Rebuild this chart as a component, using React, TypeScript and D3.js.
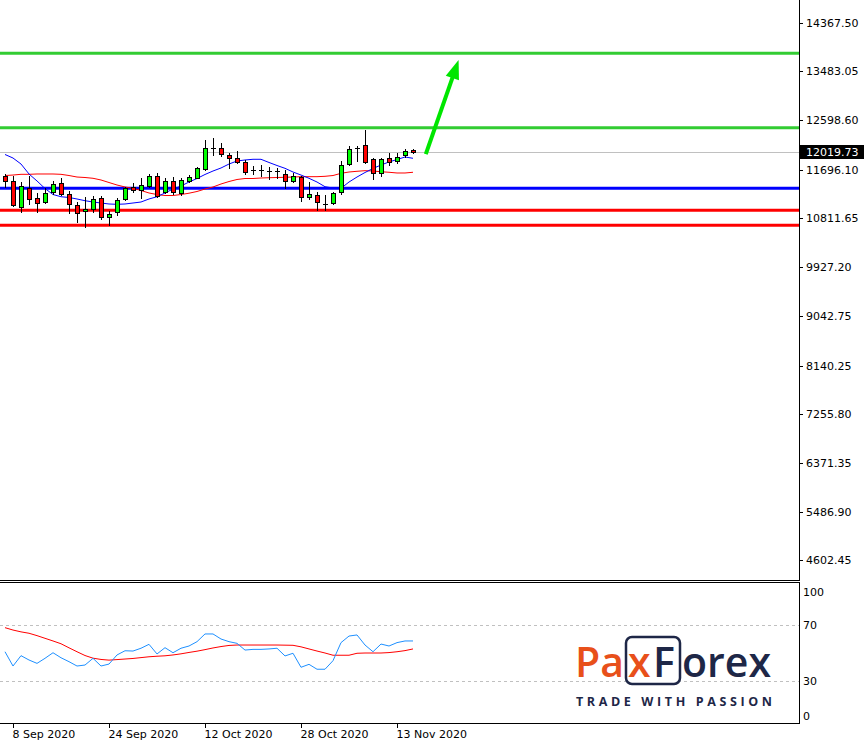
import React from 'react';
import * as d3 from 'd3';

const dates = [
  '2020-09-07','2020-09-08','2020-09-09','2020-09-10','2020-09-11','2020-09-14','2020-09-15','2020-09-16','2020-09-17','2020-09-18',
  '2020-09-21','2020-09-22','2020-09-23','2020-09-24','2020-09-25','2020-09-28','2020-09-29','2020-09-30','2020-10-01','2020-10-02',
  '2020-10-05','2020-10-06','2020-10-07','2020-10-08','2020-10-09','2020-10-12','2020-10-13','2020-10-14','2020-10-15','2020-10-16',
  '2020-10-19','2020-10-20','2020-10-21','2020-10-22','2020-10-23','2020-10-26','2020-10-27','2020-10-28','2020-10-29','2020-10-30',
  '2020-11-02','2020-11-03','2020-11-04','2020-11-05','2020-11-06','2020-11-09','2020-11-10','2020-11-11','2020-11-12','2020-11-13',
  '2020-11-16','2020-11-17'
];

const open = [11583,11492,11020,11365,11184,11111,11293,11456,11256,11057, 10948,10984,11184,10839,10930,11166,11384,11329,11402,11583, 11293,11492,11275,11492,11547,11710,12092,12092,11965,11910, 11838,11692,11692,11674,11674,11620,11492,11565,11202,11238, 11075,11093,11293,11801,12092,12146,11892,11638,11910,11856, 11965,12055];
const high = [11620,11583,11474,11583,11275,11365,11492,11547,11311,11111, 11202,11220,11220,10948,11184,11384,11456,11547,11620,11638, 11547,11565,11547,11601,11740,12237,12273,12183,12001,12037, 11874,11765,11783,11747,11729,11692,11638,11583,11474,11293, 11238,11293,11856,12128,12128,12419,11910,11910,12001,12001, 12074,12074];
const low = [11384,11038,10930,11075,10930,11093,11256,11238,10911,10748, 10657,10930,10802,10693,10875,11147,11293,11184,11384,11202, 11275,11256,11238,11474,11540,11692,11965,11947,11729,11819, 11620,11620,11592,11529,11547,11365,11474,11129,11166,10966, 10966,11075,11256,11783,11856,11819,11529,11583,11783,11819, 11928,12001];
const close = [11492,11057,11402,11166,11093,11275,11438,11256,11075,10911, 10984,11166,10839,10893,11147,11365,11329,11420,11583,11220, 11492,11293,11511,11565,11729,12092,12092,11983,11910,11838, 11656,11690,11695,11672,11680,11492,11583,11202,11256,11111, 11072,11275,11783,12074,12088,11838,11638,11892,11838,11928, 12037,12019.73];

const maFast = [11974,11910,11801,11620,11493,11356,11247,11207,11193,11166, 11135,11111,11093,11075,11069,11075,11093,11111,11166,11207, 11275,11347,11402,11474,11538,11611,11674,11729,11801,11856, 11874,11887,11887,11829,11774,11723,11656,11601,11542,11474, 11389,11365,11360,11474,11565,11647,11720,11783,11838,11883, 11928,11905];
const maSlow = [11592,11601,11614,11614,11620,11620,11620,11614,11592,11565, 11556,11542,11511,11465,11420,11384,11360,11320,11275,11247, 11229,11229,11247,11271,11302,11347,11384,11438,11483,11520, 11538,11538,11547,11552,11556,11560,11565,11571,11571,11571, 11578,11592,11632,11656,11669,11680,11674,11661,11651,11638, 11638,11651];

const oscMain = [50.9,40.7,48.1,45,42.6,46.2,50.2,46.6,43.8,40.7, 41.4,46.2,40.7,42.1,48.6,51.6,51.4,53.4,56.2,49.3, 53.8,50.2,53.4,55,58.1,63.6,63.6,60,58.1,56.9, 52.1,52.6,52.6,52.9,53.4,47.9,49.8,39.8,41.9,38.4, 38.4,44.5,57.4,62.1,62.9,55.7,50.9,56.4,55,57.4, 58.6,58.6];
const oscSignal = [68.1,66.4,65.1,64.1,62.4,60.5,58.6,56.6,53.7,50.9, 48.2,46.3,45.4,44.9,45.3,45.7,46.1,46.7,47.3,47.7, 48,48.6,49.4,50.4,51.3,52.4,53.6,54.6,55.4,55.7, 55.7,55.7,55.7,55.7,55.7,55.6,55.5,54.4,52.9,51.4, 50,48.4,48.4,48.4,49.8,50,50,50,50.3,50.9, 51.7,52.9];

const priceTicks = ['14367.50','13483.05','12598.60','11696.10','10811.65','9927.20','9042.75','8140.25','7255.80','6371.35','5486.90','4602.45'];
const oscTicks = [100, 70, 30, 0];
const oscLevels = [70, 30];
const labelDates = ['2020-09-08','2020-09-24','2020-10-12','2020-10-28','2020-11-13'];

const greenLevels = [13812, 12460];
const blueLevels = [11360];
const redLevels = [10960, 10688];
const lastPrice = 12019.73;
const arrowFrom = { i: 52.6, p: 11980 };
const arrowTo = { i: 56.7, p: 13690 };

const W = 866, H = 743;
const AXIS_X = 799;
const MAIN_BOTTOM = 580;
const SUB_TOP = 582;
const SUB_BOTTOM = 723;
const FONT = '"DejaVu Sans", sans-serif';

export default function App() {
  const x = d3.scaleLinear().domain([0, dates.length - 1]).range([5, 413]);
  const y = d3.scaleLinear().domain([4602.45, 14367.5]).range([560.4, 22.7]);
  const oy = d3.scaleLinear().domain([0, 100]).range([723, 583]);
  const parse = d3.timeParse('%Y-%m-%d');
  const fmt = d3.timeFormat('%-d %b %Y');

  const lineMain = d3.line<number>().x((_, i) => x(i)).y((v) => y(v));
  const lineOsc = d3.line<number>().x((_, i) => x(i)).y((v) => oy(v));

  const ax1 = x(arrowFrom.i), ay1 = y(arrowFrom.p);
  const ax2 = x(arrowTo.i), ay2 = y(arrowTo.p);
  const dx = ax2 - ax1, dy = ay2 - ay1;
  const len = Math.hypot(dx, dy);
  const ux = dx / len, uy = dy / len;
  const headL = 19, headW = 7;
  const bx = ax2 - ux * headL, by = ay2 - uy * headL;
  const head = [
    [ax2, ay2],
    [bx - uy * headW, by + ux * headW],
    [bx + uy * headW, by - ux * headW],
  ].map((p) => p.join(',')).join(' ');

  const navy = '#1E2747';
  const orange = '#E8501A';

  return (
    <svg width={W} height={H} style={{ position: 'absolute', left: 0, top: 0, background: '#fff' }}>
      <rect x={0} y={0} width={W} height={H} fill="#fff" />
      <defs>
        <clipPath id="mainClip"><rect x={0} y={0} width={AXIS_X} height={MAIN_BOTTOM} /></clipPath>
        <clipPath id="subClip"><rect x={0} y={SUB_TOP} width={AXIS_X} height={SUB_BOTTOM - SUB_TOP} /></clipPath>
      </defs>

      {/* main panel */}
      <g clipPath="url(#mainClip)">
        <line x1={0} x2={AXIS_X} y1={Math.round(y(lastPrice)) + 0.5} y2={Math.round(y(lastPrice)) + 0.5} stroke="#C0C0C0" strokeWidth={1} />
        {greenLevels.map((p, k) => (
          <line key={'g' + k} x1={0} x2={AXIS_X} y1={y(p)} y2={y(p)} stroke="#33CC33" strokeWidth={3} />
        ))}
        {blueLevels.map((p, k) => (
          <line key={'b' + k} x1={0} x2={AXIS_X} y1={y(p)} y2={y(p)} stroke="#0000FF" strokeWidth={3} />
        ))}
        {redLevels.map((p, k) => (
          <line key={'r' + k} x1={0} x2={AXIS_X} y1={y(p)} y2={y(p)} stroke="#FF0000" strokeWidth={3} />
        ))}
        <path d={lineMain(maSlow) || ''} fill="none" stroke="#FF0000" strokeWidth={1} />
        <path d={lineMain(maFast) || ''} fill="none" stroke="#0000FF" strokeWidth={1} />
        {dates.map((d, i) => {
          const cx = Math.round(x(i)) + 0.5;
          const yo = y(open[i]), yc = y(close[i]);
          const top = Math.round(Math.min(yo, yc));
          const bot = Math.round(Math.max(yo, yc));
          const bull = close[i] > open[i];
          return (
            <g key={d} shapeRendering="crispEdges">
              <line x1={cx} x2={cx} y1={Math.round(y(high[i]))} y2={Math.round(y(low[i])) + 1} stroke="#000" strokeWidth={1} />
              {bot - top < 1 ? (
                <line x1={cx - 2.5} x2={cx + 2.5} y1={top + 0.5} y2={top + 0.5} stroke="#000" strokeWidth={1} />
              ) : (
                <rect x={cx - 2} y={top + 0.5} width={4} height={bot - top} fill={bull ? '#00FF00' : '#FF0000'} stroke="#000" strokeWidth={1} />
              )}
            </g>
          );
        })}
        <line x1={ax1} y1={ay1} x2={bx + ux * 2} y2={by + uy * 2} stroke="#00E600" strokeWidth={4} />
        <polygon points={head} fill="#00E600" />
      </g>

      {/* sub panel */}
      <g clipPath="url(#subClip)">
        {oscLevels.map((v) => (
          <line key={v} x1={0} x2={AXIS_X} y1={Math.round(oy(v)) + 0.5} y2={Math.round(oy(v)) + 0.5} stroke="#C0C0C0" strokeDasharray="3,3" strokeWidth={1} />
        ))}
        <path d={lineOsc(oscSignal) || ''} fill="none" stroke="#FF0000" strokeWidth={1} />
        <path d={lineOsc(oscMain) || ''} fill="none" stroke="#1E90FF" strokeWidth={1} />
      </g>

      {/* logo */}
      <g>
        <rect x={626} y={637} width={54} height={47} rx={6} fill="#fff" stroke={navy} strokeWidth={2.5} />
        <text x={575} y={677} fontFamily='"Open Sans", sans-serif' fontWeight={600} fontSize={41} fill={orange}>Pa</text>
        <text x={628} y={677} fontFamily='"Open Sans", sans-serif' fontWeight={600} fontSize={41} fill={orange}>x</text>
        <text x={653} y={677} fontFamily='"Open Sans", sans-serif' fontWeight={600} fontSize={41} fill={navy}>F</text>
        <text x={682} y={677} fontFamily='"Open Sans", sans-serif' fontWeight={600} fontSize={41} fill={navy} textLength={89} lengthAdjust="spacingAndGlyphs">orex</text>
        <text x={576} y={706} fontFamily='"Open Sans", sans-serif' fontWeight={700} fontSize={12.5} fill={navy} textLength={196} lengthAdjust="spacing">TRADE WITH PASSION</text>
      </g>

      {/* frame */}
      <g shapeRendering="crispEdges" stroke="#000" strokeWidth={1}>
        <line x1={AXIS_X + 0.5} x2={AXIS_X + 0.5} y1={0} y2={MAIN_BOTTOM + 1} />
        <line x1={AXIS_X + 0.5} x2={AXIS_X + 0.5} y1={SUB_TOP} y2={SUB_BOTTOM + 1} />
        <line x1={0} x2={AXIS_X + 1} y1={MAIN_BOTTOM + 0.5} y2={MAIN_BOTTOM + 0.5} />
        <line x1={0} x2={AXIS_X + 1} y1={SUB_TOP + 0.5} y2={SUB_TOP + 0.5} />
        <line x1={0} x2={AXIS_X + 1} y1={SUB_BOTTOM + 0.5} y2={SUB_BOTTOM + 0.5} />
      </g>

      {/* price axis */}
      {priceTicks.map((t) => {
        const ty = Math.round(y(+t)) + 0.5;
        return (
          <g key={t}>
            <line x1={AXIS_X} x2={AXIS_X + 4} y1={ty} y2={ty} stroke="#000" shapeRendering="crispEdges" />
            <text x={806} y={ty} dy="0.36em" fontFamily={FONT} fontSize={11} fill="#000">{t}</text>
          </g>
        );
      })}
      <rect x={800} y={Math.round(y(lastPrice)) - 7} width={64} height={14} fill="#000" />
      <text x={806} y={Math.round(y(lastPrice))} dy="0.36em" fontFamily={FONT} fontSize={11} fill="#fff">{lastPrice.toFixed(2)}</text>

      {/* osc axis */}
      {oscTicks.map((v) => {
        const ty = Math.min(Math.max(oy(v), 592), 716);
        return (
          <text key={v} x={803} y={ty} dy="0.36em" fontFamily={FONT} fontSize={11} fill="#000">{v}</text>
        );
      })}

      {/* time axis */}
      {labelDates.map((d) => {
        const i = dates.indexOf(d);
        const cx = Math.round(x(i)) + 0.5;
        return (
          <g key={d}>
            <line x1={cx} x2={cx} y1={SUB_BOTTOM} y2={SUB_BOTTOM + 5} stroke="#000" shapeRendering="crispEdges" />
            <text x={cx - 1} y={738} fontFamily={FONT} fontSize={11} fill="#000">{fmt(parse(d) as Date)}</text>
          </g>
        );
      })}
    </svg>
  );
}
